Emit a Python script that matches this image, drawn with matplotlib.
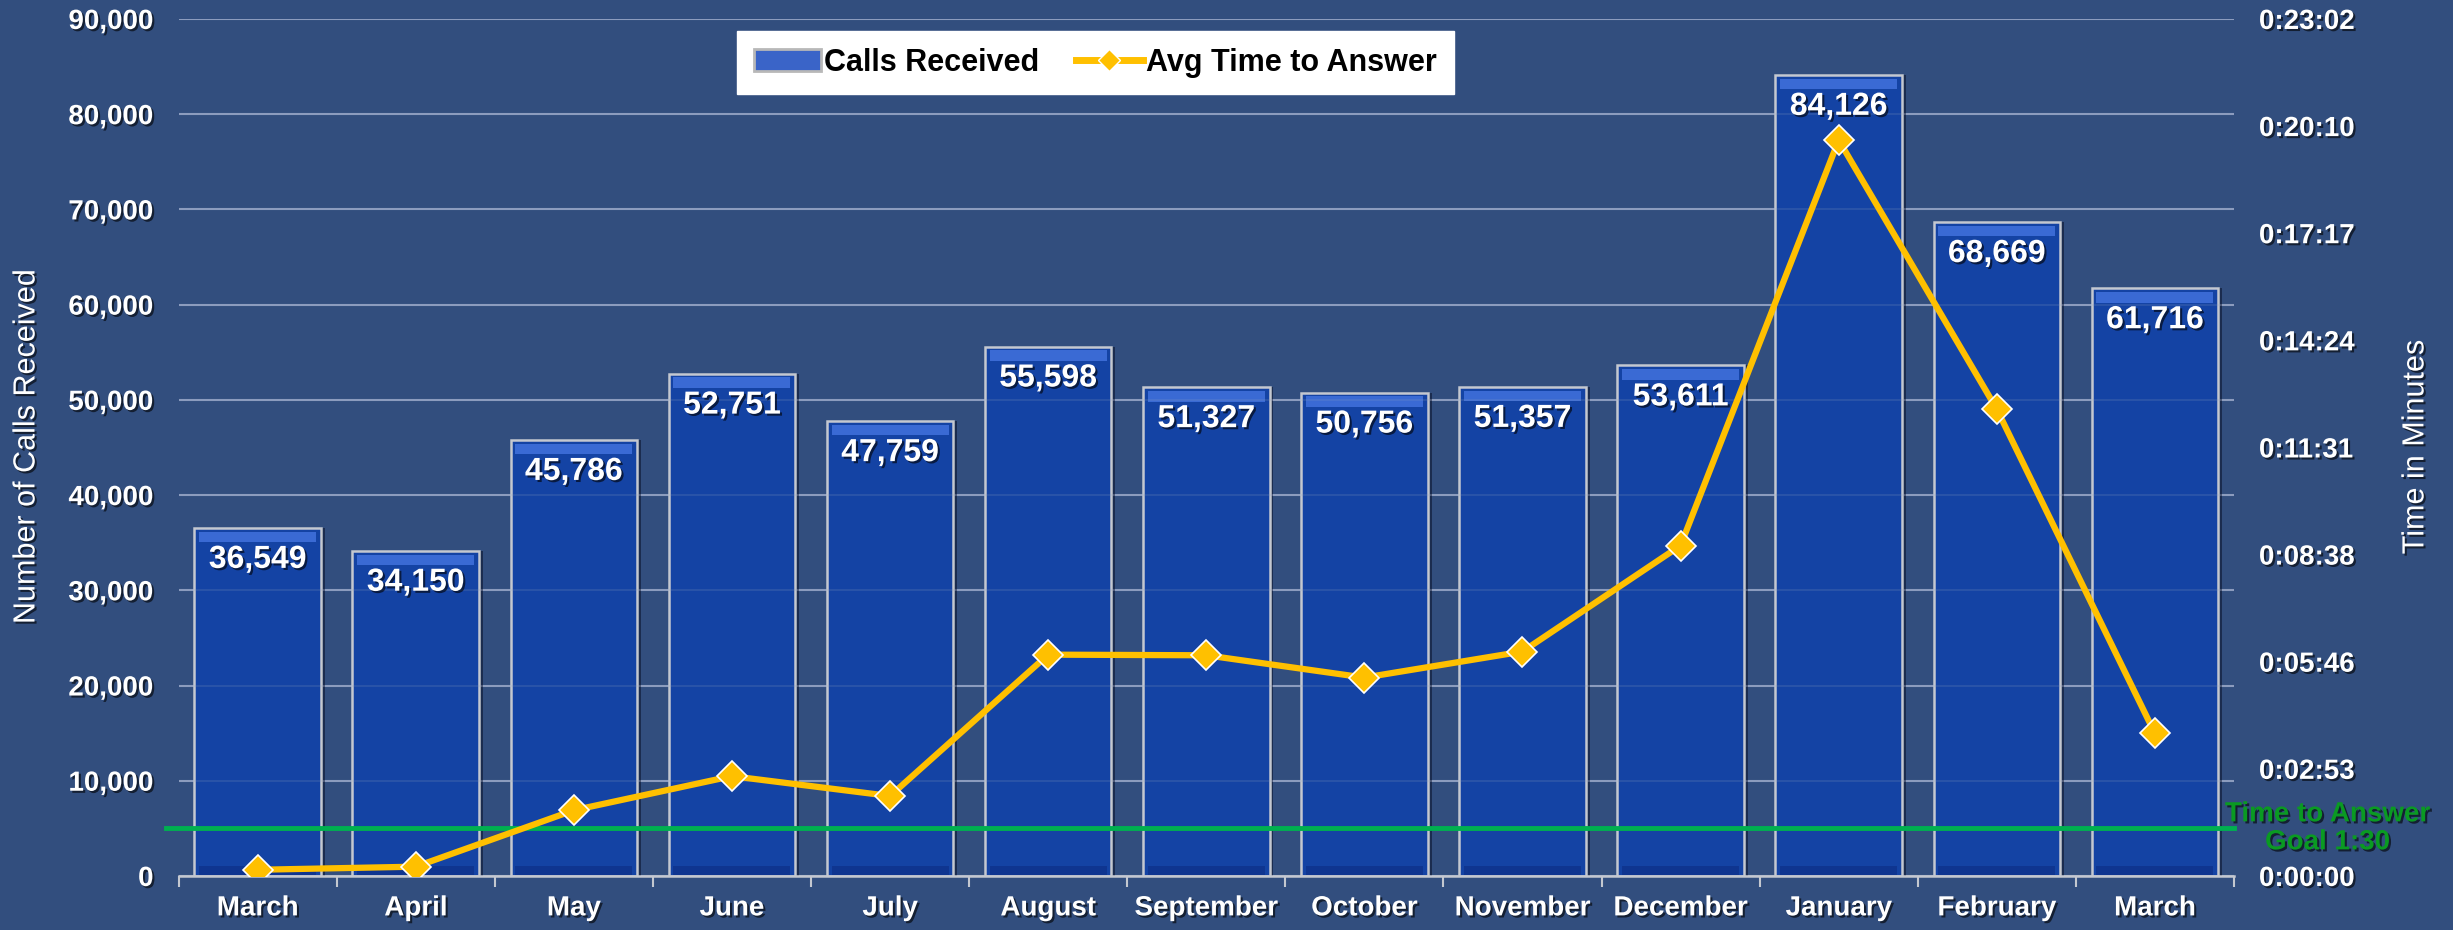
import numpy as np
import matplotlib
matplotlib.use('Agg')
import matplotlib.pyplot as plt
import matplotlib.patheffects as pe
from matplotlib.lines import Line2D
from matplotlib.patches import Patch
from matplotlib.ticker import FuncFormatter, MultipleLocator, FixedLocator
import matplotlib.transforms as mtransforms

plt.rcParams['font.family'] = ['Liberation Sans', 'DejaVu Sans']

# data
months = ['March', 'April', 'May', 'June', 'July', 'August', 'September',
          'October', 'November', 'December', 'January', 'February', 'March']
calls = [36549, 34150, 45786, 52751, 47759, 55598, 51327,
         50756, 51357, 53611, 84126, 68669, 61716]
# average time to answer, seconds
avg_secs = [10, 15, 106, 161, 129, 357, 356, 320, 362, 533, 1187, 753, 230]
goal_calls_axis = 5000   # where the goal line sits on the left axis
goal_label = 'Time to Answer\nGoal 1:30'

BG = '#324E7E'
BAR = '#1443A4'
GOLD = '#FFC000'
GREEN = '#00B050'
GRID = '#8C9CBE'

fig = plt.figure(figsize=(24.53, 9.3), dpi=100, facecolor=BG)
ax = fig.add_axes([0.0728, 0.0581, 0.8379, 0.9215], facecolor=BG)
ax2 = ax.twinx()

x = np.arange(len(months))
calls_arr = np.array(calls)

# bars with a little bevel
ax.bar(x + 0.025, calls_arr, width=0.8, color='#0c1630', alpha=0.6, zorder=2)
bars = ax.bar(x, calls_arr, width=0.8, color=BAR, edgecolor='#C4C8D0',
              linewidth=1.8, zorder=3)
ax.bar(x, np.full(len(x), 1100), bottom=calls_arr - 1500, width=0.74,
       color='#3A6AD4', zorder=4)
ax.bar(x, np.full(len(x), 900), bottom=np.full(len(x), 150), width=0.74,
       color='#0F3590', zorder=4)

ax.set_xlim(-0.5, len(x) - 0.5)
ax.set_ylim(0, 90000)
ax.yaxis.set_major_locator(MultipleLocator(10000))
ax.yaxis.set_major_formatter(FuncFormatter(lambda v, p: f'{int(v):,}'))
ax.grid(axis='y', color=GRID, linewidth=1.5, zorder=1)
ax.set_axisbelow(True)
# faint gridlines showing through the bars
ax.hlines(np.arange(10000, 90001, 10000), -0.5, len(x) - 0.5, color=GRID,
          linewidth=1.5, alpha=0.18, zorder=4.5)

shadow = [pe.SimplePatchShadow(offset=(1.5, -1.5), shadow_rgbFace='black', alpha=0.6),
          pe.Normal()]
for xi, v in zip(x, calls):
    ax.annotate(f'{v:,}', (xi, v), xytext=(0, -23), textcoords='offset points',
                ha='center', va='center', color='white', fontsize=23,
                fontweight='bold', zorder=6, path_effects=shadow)

ax.set_xticks(x)
ax.set_xticklabels(months)
ax.xaxis.set_minor_locator(FixedLocator(np.arange(-0.5, len(x), 1.0)))
ax.tick_params(axis='x', which='major', length=0, pad=14, labelsize=20,
               labelcolor='white')
ax.tick_params(axis='x', which='minor', length=8, width=1.5, color='#C4C8D0',
               direction='out')
ax.tick_params(axis='y', length=0, pad=18, labelsize=20, labelcolor='white')
for lab in ax.get_xticklabels() + ax.get_yticklabels():
    lab.set_fontweight('bold')
    lab.set_path_effects(shadow)

for s in ['top', 'right', 'left']:
    ax.spines[s].set_visible(False)
ax.spines['bottom'].set_color('#C4C8D0')
ax.spines['bottom'].set_linewidth(1.8)
ax.spines['bottom'].set_zorder(5)

ax.set_ylabel('Number of Calls Received', color='white', fontsize=22,
              path_effects=shadow, va='center')
ax.yaxis.set_label_coords(-0.074, 0.5)

# goal line
ax.plot([-0.577, len(x) - 0.5], [goal_calls_axis] * 2, color=GREEN,
        linewidth=3.5, zorder=7, clip_on=False)
tr = mtransforms.blended_transform_factory(ax.transAxes, ax.transData)
ax.text(1.0455, goal_calls_axis, goal_label, transform=tr, ha='center',
        va='center', color='#0A9A22', fontsize=20, fontweight='bold',
        linespacing=1.1, zorder=8, clip_on=False,
        path_effects=[pe.SimplePatchShadow(offset=(1.5, -1.5),
                                           shadow_rgbFace='black', alpha=0.6),
                      pe.Normal()])

# avg time line on the right axis (0 to 0.016 day)
ax2.plot(x, avg_secs, color=GOLD, linewidth=4.5, marker='D', markersize=15,
         markerfacecolor=GOLD, markeredgecolor='white', markeredgewidth=1.2,
         zorder=9)
ax2.set_ylim(0, 0.016 * 86400)
ax2.yaxis.set_major_locator(MultipleLocator(0.002 * 86400))


def hms(v, pos):
    s = int(round(v))
    return f'{s // 3600}:{(s % 3600) // 60:02d}:{s % 60:02d}'


ax2.yaxis.set_major_formatter(FuncFormatter(hms))
ax2.tick_params(axis='y', length=0, pad=18, labelsize=20, labelcolor='white')
for lab in ax2.get_yticklabels():
    lab.set_fontweight('bold')
    lab.set_path_effects(shadow)
for s in ax2.spines.values():
    s.set_visible(False)
ax2.set_ylabel('Time in Minutes', color='white', fontsize=22,
               path_effects=shadow, rotation=90, va='center')
ax2.yaxis.set_label_coords(1.0883, 0.5)
ax2.set_zorder(ax.get_zorder() + 1)
ax2.patch.set_visible(False)

handles = [Patch(facecolor='#3A64C8', edgecolor='#B8B8B8', linewidth=2),
           Line2D([0], [0], color=GOLD, linewidth=5, marker='D', markersize=11,
                  markerfacecolor=GOLD, markeredgecolor='white')]
leg = ax2.legend(handles, ['Calls Received', 'Avg Time to Answer'],
                 loc='center', bbox_to_anchor=(0.446, 0.949), ncol=2,
                 frameon=True, fancybox=False, facecolor='white',
                 edgecolor='white', framealpha=1, handlelength=2.2,
                 handletextpad=0.1, columnspacing=1.2, borderpad=0.55,
                 prop={'weight': 'bold', 'size': 22})
for t in leg.get_texts():
    t.set_color('black')

fig.savefig('out.png', dpi=100, facecolor=BG)
